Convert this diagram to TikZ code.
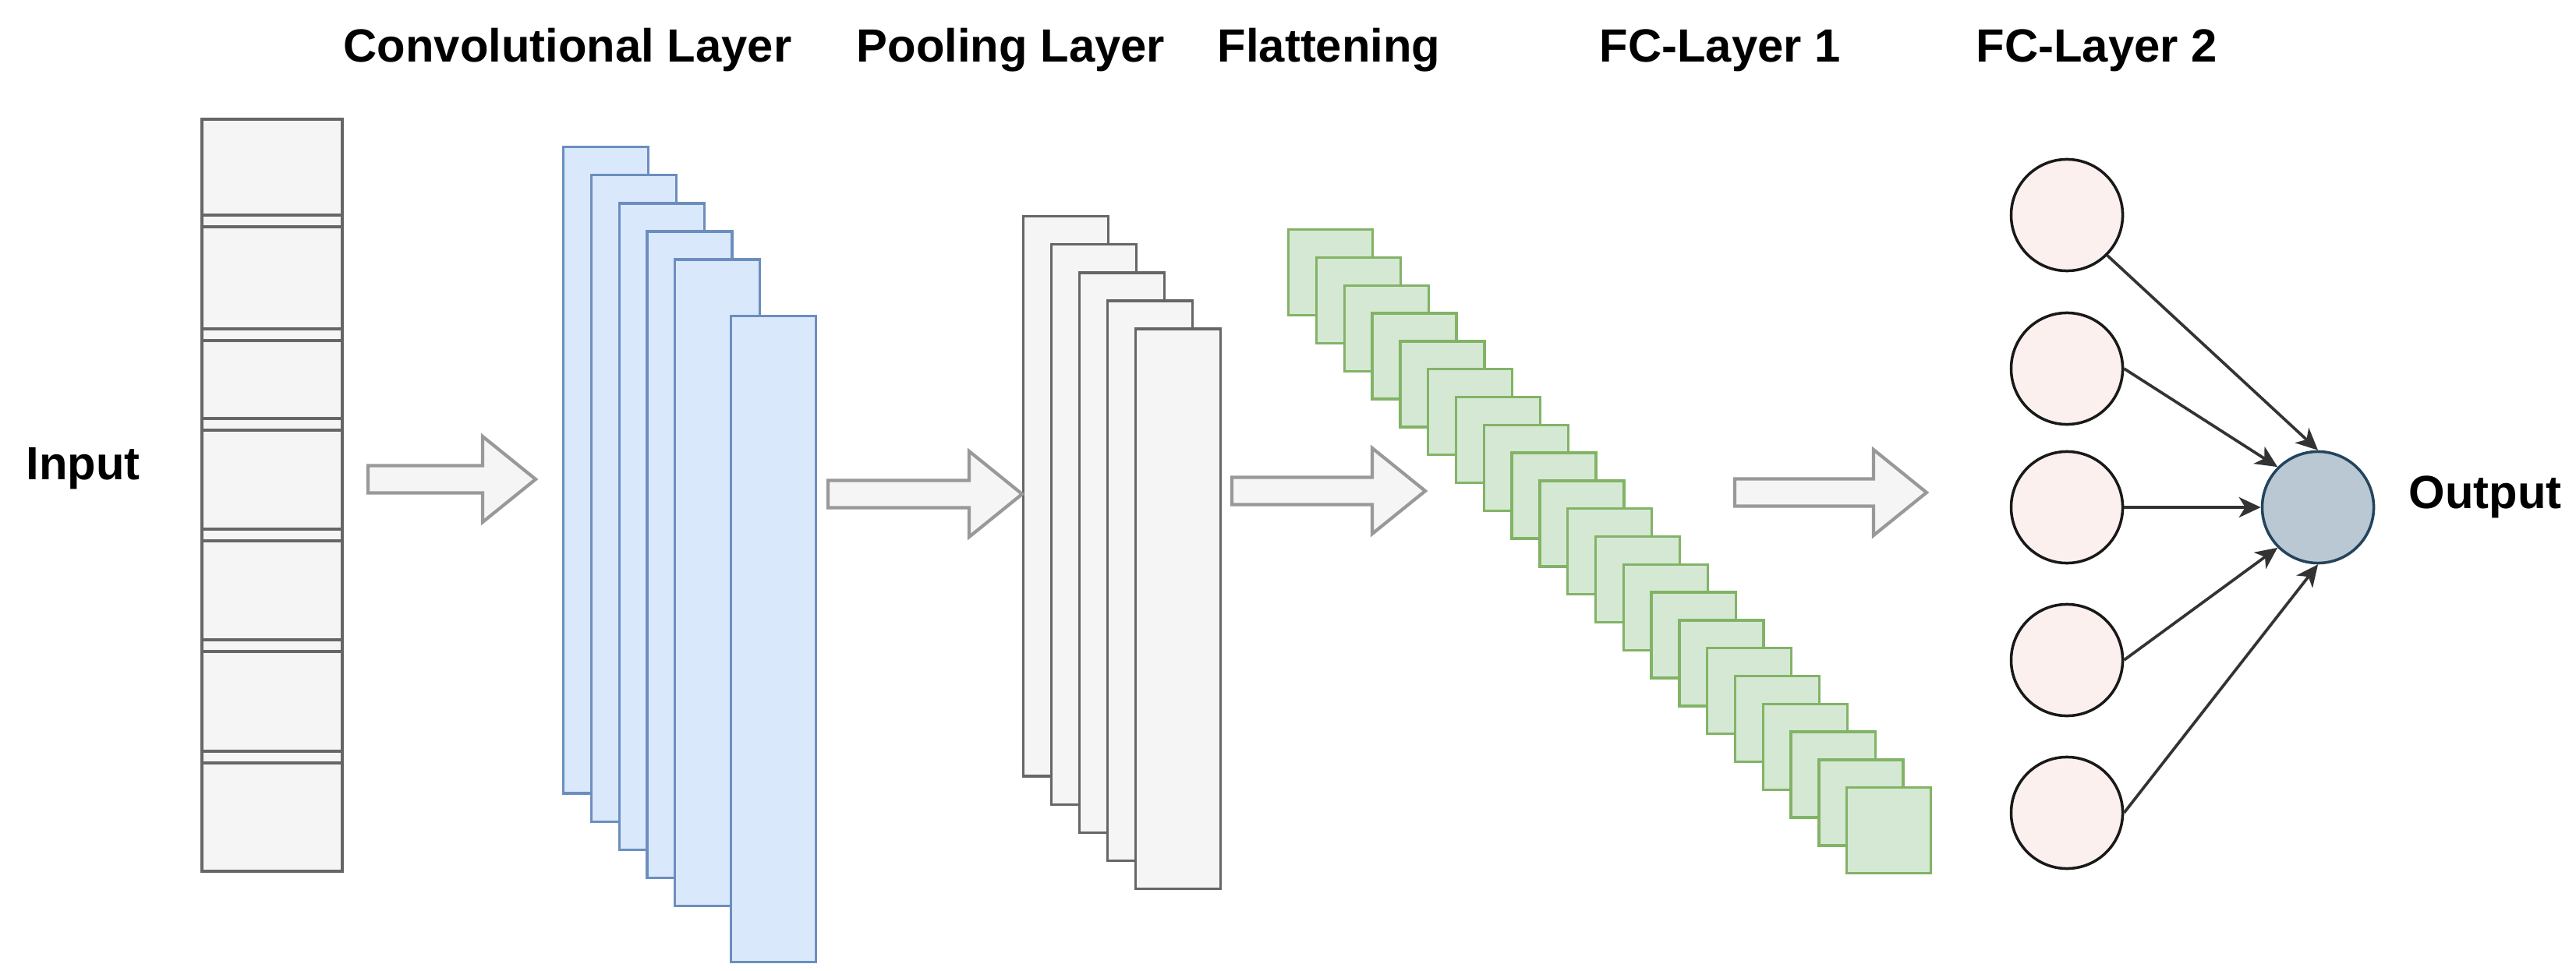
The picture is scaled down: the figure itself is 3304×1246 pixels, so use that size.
\documentclass[tikz,border=0pt]{standalone}
\usepackage{fontspec}
\setmainfont{Liberation Sans}
\usetikzlibrary{arrows.meta}
\definecolor{inpfill}{HTML}{F5F5F5}
\definecolor{inpdraw}{HTML}{666666}
\definecolor{convfill}{HTML}{DAE8FC}
\definecolor{convdraw}{HTML}{6C8EBF}
\definecolor{greenfill}{HTML}{D5E8D4}
\definecolor{greendraw}{HTML}{82B366}
\definecolor{neuronfill}{HTML}{FCF0EE}
\definecolor{outfill}{HTML}{BAC8D3}
\definecolor{outdraw}{HTML}{23445D}
\definecolor{arrowdraw}{HTML}{999999}
\newcommand\drawblockarrow[4]{%
  \draw[blkarrow] (#1,#4-17.5) -- (#2,#4-17.5) -- (#2,#4-55) -- (#3,#4) -- (#2,#4+55) -- (#2,#4+17.5) -- (#1,#4+17.5) -- cycle;}
\begin{document}
\begin{tikzpicture}[x=0.01cm, y=-0.01cm,
  lbl/.style={font=\fontsize{17}{20}\selectfont\bfseries, anchor=base west, inner sep=0pt},
  layerbox/.style={draw, rectangle, inner sep=0pt, anchor=north west, line width=0.95pt},
  inputbox/.style={layerbox, fill=inpfill, draw=inpdraw, minimum width=1.80cm, minimum height=9.64cm, line width=1.2pt},
  convbox/.style={layerbox, fill=convfill, draw=convdraw, minimum width=1.09cm, minimum height=8.29cm},
  poolbox/.style={layerbox, fill=inpfill, draw=inpdraw, minimum width=1.09cm, minimum height=7.18cm},
  flatbox/.style={layerbox, fill=greenfill, draw=greendraw, minimum width=1.08cm, minimum height=1.10cm},
  neuron/.style={circle, draw=black!90, fill=neuronfill, minimum size=1.43cm, inner sep=0pt, line width=1pt},
  outneuron/.style={neuron, fill=outfill, draw=outdraw},
  blkarrow/.style={draw=arrowdraw, fill=inpfill, line width=1.2pt, line join=miter},
  edge/.style={draw=black!80, line width=1.05pt, -{Stealth[length=0.28cm, width=0.26cm, inset=0.08cm]}}
]
\fill[white] (0,0) rectangle (3304,1246);
\useasboundingbox (0,0) rectangle (3304,1246);

% titles
\node[lbl] (tconv) at (440,80) {Convolutional Layer};
\node[lbl] (tpool) at (1098,80) {Pooling Layer};
\node[lbl] (tflat) at (1561,80) {Flattening};
\node[lbl] (tfc1) at (2051,80) {FC-Layer 1};
\node[lbl] (tfc2) at (2534,80) {FC-Layer 2};
\node[lbl] (tin) at (33,615) {Input};
\node[lbl] (tout) at (3089,652) {Output};

% input column
\node[inputbox] (inp) at (257,151) {};
\foreach \yy in {276,422,537,679,821,964} {
  \draw[inpdraw, line width=1.2pt] (257,\yy) -- (437,\yy);
  \draw[inpdraw, line width=1.2pt] (257,\yy+15) -- (437,\yy+15);
}

% conv layers
\foreach \k in {0,1,2,3,4,6} {
  \node[convbox] (conv\k) at (721+35.75*\k,187+36.1*\k) {};
}

% pooling layers
\foreach \k in {0,...,4} {
  \node[poolbox] (pool\k) at (1311+35.9*\k,276+36.1*\k) {};
}

% flattening
\foreach \k in {0,...,20} {
  \node[flatbox] (flat\k) at (1651+35.8*\k,293+35.8*\k) {};
}

% block arrows
\drawblockarrow{472}{619}{687}{615}
\drawblockarrow{1062}{1243}{1311}{634}
\drawblockarrow{1580}{1760}{1828}{630}
\drawblockarrow{2225}{2403}{2471}{632}

% neurons
\node[neuron] (n1) at (2651,276) {};
\node[neuron] (n2) at (2651,473) {};
\node[neuron] (n3) at (2651,651) {};
\node[neuron] (n4) at (2651,847) {};
\node[neuron] (n5) at (2651,1043) {};
\node[outneuron] (out) at (2973,651) {};

\draw[edge] (n1.south east) -- (out.north);
\draw[edge] (n2.east) -- (out.north west);
\draw[edge] (n3.east) -- (out.west);
\draw[edge] (n4.east) -- (out.south west);
\draw[edge] (n5.east) -- (out.south);
\end{tikzpicture}
\end{document}
